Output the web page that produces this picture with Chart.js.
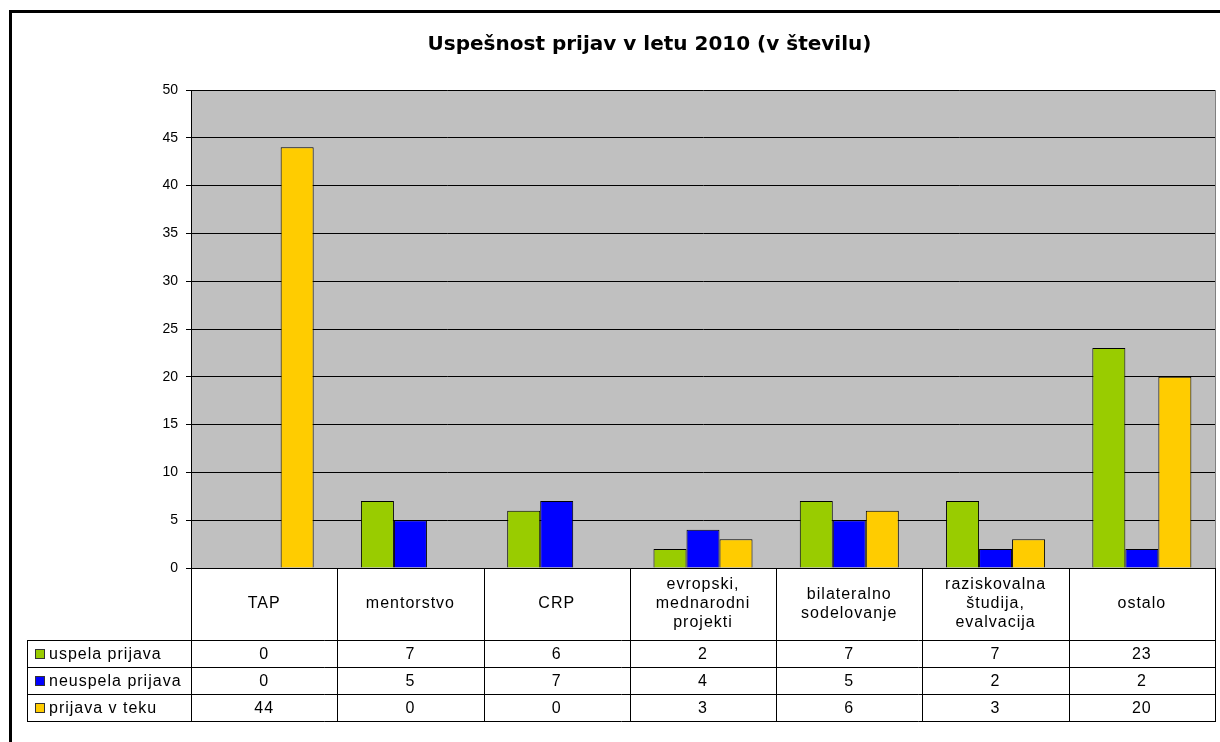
<!DOCTYPE html>
<html>
<head>
<meta charset="utf-8">
<script src="https://cdn.jsdelivr.net/npm/chart.js@4.4.1/dist/chart.umd.min.js"></script>
<style>
  body { margin: 0; background: #fff; }
</style>
</head>
<body>
<canvas id="myChart" width="1220" height="742"></canvas>
<script>
const categories = ['TAP', 'mentorstvo', 'CRP', ['evropski,', 'mednarodni', 'projekti'], ['bilateralno', 'sodelovanje'], ['raziskovalna', 'študija,', 'evalvacija'], 'ostalo'];
const uspela = [0, 7, 6, 2, 7, 7, 23];
const neuspela = [0, 5, 7, 4, 5, 2, 2];
const vTeku = [44, 0, 0, 3, 6, 3, 20];
const seriesNames = ['uspela prijava', 'neuspela prijava', 'prijava v teku'];
const yTicks = [0, 5, 10, 15, 20, 25, 30, 35, 40, 45, 50];

// white page, outer frame and grey plot area
const background = {
  id: 'background',
  beforeDraw(chart) {
    const { ctx, chartArea } = chart;
    ctx.save();
    ctx.fillStyle = '#fff';
    ctx.fillRect(0, 0, chart.width, chart.height);
    ctx.strokeStyle = '#000';
    ctx.lineWidth = 3;
    ctx.strokeRect(10.5, 11.5, 1400, 900);
    ctx.fillStyle = '#c0c0c0';
    ctx.fillRect(chartArea.left, chartArea.top, chartArea.right - chartArea.left, chartArea.bottom - chartArea.top);
    ctx.strokeStyle = '#808080';
    ctx.lineWidth = 1;
    ctx.beginPath();
    ctx.moveTo(chartArea.right + 0.5, chartArea.top);
    ctx.lineTo(chartArea.right + 0.5, chartArea.bottom);
    ctx.stroke();
    ctx.restore();
  }
};

// data table under the plot, columns follow the x scale
const dataTable = {
  id: 'dataTable',
  afterDraw(chart) {
    const { ctx, chartArea, scales: { x } } = chart;
    const step = x.getPixelForValue(1) - x.getPixelForValue(0);
    const left = chartArea.left;
    const right = chartArea.right;
    const top = chartArea.bottom;
    const headH = 72;
    const rowH = 27;
    const legendLeft = 27;
    const datasets = chart.data.datasets;
    const bottom = top + headH + rowH * datasets.length;

    ctx.save();
    ctx.strokeStyle = '#000';
    ctx.lineWidth = 1;
    ctx.beginPath();
    // verticals
    for (let i = 0; i <= categories.length; i++) {
      const px = Math.round(x.getPixelForValue(i) - step / 2) + 0.5;
      ctx.moveTo(px, top);
      ctx.lineTo(px, bottom);
    }
    ctx.moveTo(legendLeft + 0.5, top + headH);
    ctx.lineTo(legendLeft + 0.5, bottom);
    ctx.moveTo(left, top + 0.5);
    ctx.lineTo(right, top + 0.5);
    // horizontals
    for (let r = 0; r <= datasets.length; r++) {
      const py = Math.round(top + headH + r * rowH) + 0.5;
      ctx.moveTo(legendLeft, py);
      ctx.lineTo(right + 1, py);
    }
    ctx.stroke();

    ctx.fillStyle = '#000';
    ctx.font = '16px "Liberation Sans", Arial, sans-serif';
    ctx.letterSpacing = '1px';
    ctx.textAlign = 'center';
    ctx.textBaseline = 'middle';

    categories.forEach((cat, i) => {
      const cx = x.getPixelForValue(i);
      const lines = Array.isArray(cat) ? cat : [cat];
      const lh = 19;
      const cy = top + headH / 2 - (lines.length - 1) * lh / 2;
      lines.forEach((ln, k) => ctx.fillText(ln, cx, cy + k * lh));
    });

    datasets.forEach((ds, r) => {
      const cy = top + headH + r * rowH + rowH / 2 + 1;
      ctx.textAlign = 'center';
      ds.data.forEach((v, i) => {
        ctx.fillText(String(v), x.getPixelForValue(i), cy);
      });
      // legend key
      ctx.fillStyle = ds.backgroundColor;
      ctx.fillRect(35.5, cy - 5, 9, 9);
      ctx.strokeStyle = '#333';
      ctx.strokeRect(35.5, cy - 5, 9, 9);
      ctx.fillStyle = '#000';
      ctx.textAlign = 'left';
      ctx.fillText(ds.label, 49, cy);
    });
    ctx.restore();
  }
};

function makeDataset(label, data, color) {
  return {
    label: label,
    data: data,
    backgroundColor: color,
    borderColor: '#000',
    borderWidth: 1,
    categoryPercentage: 0.677,
    barPercentage: 1.0
  };
}

function initChart(target) {
  const data = {
    labels: categories,
    datasets: [
      makeDataset(seriesNames[0], uspela, '#99cc00'),
      makeDataset(seriesNames[1], neuspela, '#0000ff'),
      makeDataset(seriesNames[2], vTeku, '#ffcc00')
    ]
  };

  const config = {
    type: 'bar',
    data: data,
    options: {
      responsive: false,
      animation: false,
      layout: { padding: { left: 84, right: 5, top: 0, bottom: 174 } },
      plugins: {
        legend: { display: false },
        tooltip: { enabled: false },
        title: {
          display: true,
          text: 'Uspešnost prijav v letu 2010 (v številu)',
          color: '#000',
          font: { family: '"DejaVu Sans", Verdana, sans-serif', size: 20, weight: 'bold' },
          padding: { top: 33, bottom: 33 }
        }
      },
      scales: {
        x: { display: false },
        y: {
          min: 0,
          max: 50,
          afterFit: (scale) => { scale.width = 107; },
          afterBuildTicks: (scale) => { scale.ticks = yTicks.map((v) => ({ value: v })); },
          border: { display: true, color: '#000', width: 1 },
          grid: { color: '#000', lineWidth: 1, tickLength: 5 },
          ticks: {
            color: '#000',
            padding: 8,
            font: { family: '"Liberation Sans", Arial, sans-serif', size: 14 }
          }
        }
      }
    },
    plugins: [background, dataTable]
  };

  return new Chart(target, config);
}

document.addEventListener('DOMContentLoaded', () => {
  initChart(document.querySelector('#myChart'));
});
</script>
</body>
</html>
